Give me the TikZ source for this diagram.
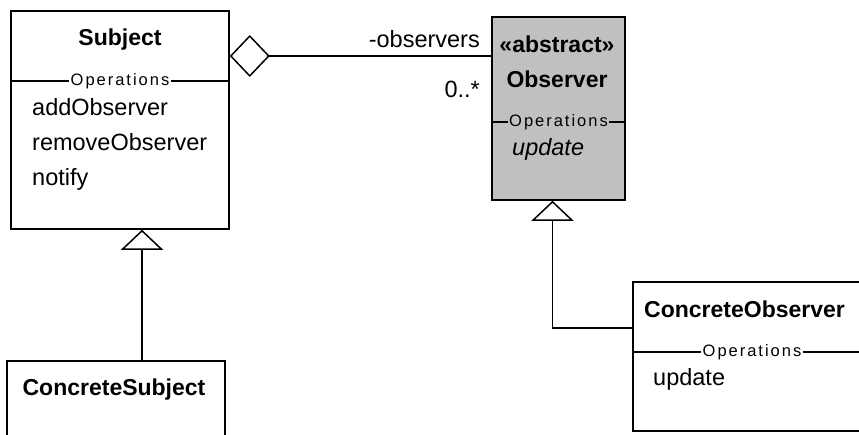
\documentclass[tikz,border=0pt]{standalone}
\usepackage{fontspec}
\setmainfont{Liberation Sans}
\usetikzlibrary{arrows.meta}
\definecolor{umlgray}{RGB}{192,192,192}

\begin{document}
\begin{tikzpicture}[x=1pt, y=-1pt,
	cls/.style={draw, line width=1.5pt, inner sep=0pt},
	txt/.style={font=\fontsize{23.5}{28}\selectfont, inner sep=0pt},
	ttl/.style={font=\fontsize{23}{28}\selectfont\bfseries, inner sep=0pt, anchor=base},
	sep/.style={line width=1.2pt},
	ops/.style={font=\fontsize{16.5}{20}\selectfont\addfontfeature{LetterSpace=12}, inner sep=1.5pt, fill=white},
	agg/.style={line width=1.5pt, {Diamond[open, length=40pt, width=42pt]}-},
	gen/.style={line width=1.5pt, -{Triangle[open, length=20pt, width=42pt]}}]
	\useasboundingbox (0,0) rectangle (859,434);
	\clip (0,0) rectangle (859,434);
	% classes
	\node[cls, minimum width=218pt, minimum height=218pt] (subject) at (120,120) {};
	\node[cls, fill=umlgray, minimum width=133pt, minimum height=183pt] (observer) at (558.5,108.5) {};
	\node[cls, minimum width=218pt, minimum height=140pt] (csubject) at (116,431) {};
	\node[cls, minimum width=238pt, minimum height=149pt] (cobserver) at (752,356.5) {};
	% Subject
	\node[ttl] (subjname) at (120,45) {Subject};
	\draw[sep] (subject.west |- 0,81) -- node[ops] (subjops) {Operations} (subject.east |- 0,81);
	\node[txt, anchor=base west] (addobs) at (32,115) {addObserver};
	\node[txt, anchor=base west] (remobs) at (32,150) {removeObserver};
	\node[txt, anchor=base west] (notify) at (32,185) {notify};
	% Observer
	\node[ttl] (stereo) at (557,52) {«abstract»};
	\node[ttl] (obsname) at (557,87) {Observer};
	\draw[sep] (observer.west |- 0,122) -- node[ops, fill=umlgray] (obsops) {Operations} (observer.east |- 0,122);
	\node[txt, anchor=base west, font=\fontsize{23.5}{28}\selectfont\itshape] (obsupd) at (512,155) {update};
	% ConcreteSubject
	\node[ttl] (csubjname) at (114,395) {ConcreteSubject};
	% ConcreteObserver
	\node[ttl, anchor=base west] (cobsname) at (644,317) {ConcreteObserver};
	\draw[sep] (cobserver.west |- 0,352) -- node[ops] (cobsops) {Operations} (cobserver.east |- 0,352);
	\node[txt, anchor=base west] (cobsupd) at (653,385) {update};
	% aggregation
	\draw[agg] (subject.east |- 0,56) -- (observer.west |- 0,56);
	\node[txt, anchor=base east] (role) at (480,47) {-observers};
	\node[txt, anchor=base east] (mult) at (480,97) {0..*};
	% generalizations
	\coordinate (subjbase) at ([xshift=22pt]subject.south);
	\coordinate (obsbase) at ([xshift=-6pt]observer.south);
	\coordinate (cobsjoin) at (cobserver.west |- 0,328);
	\draw[gen] (csubject.north -| subjbase) -- (subjbase);
	\draw[gen] (cobsjoin) -| (obsbase);
\end{tikzpicture}
\end{document}
